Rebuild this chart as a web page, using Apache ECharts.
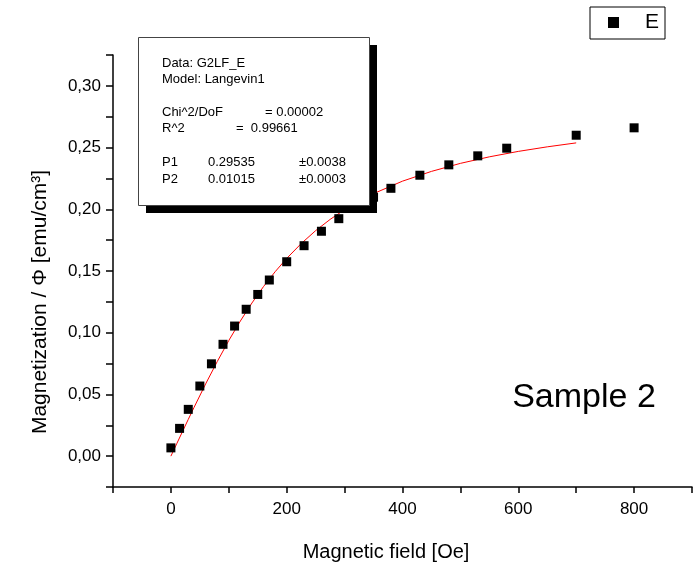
<!DOCTYPE html>
<html>
<head>
<meta charset="utf-8">
<script src="https://cdn.jsdelivr.net/npm/echarts@6/dist/echarts.min.js"></script>
<style>
html,body{margin:0;padding:0;background:#fff;}
#chart{width:695px;height:564px;}
</style>
</head>
<body>
<div id="chart"></div>
<script>
// Measured data (series E)
var fieldH = [0, 15, 30, 50, 70, 90, 110, 130, 150, 170, 200, 230, 260, 290, 350, 380, 430, 480, 530, 580, 700, 800];
var magE = [0.0067, 0.0225, 0.0379, 0.0568, 0.0748, 0.0906, 0.1054, 0.119, 0.131, 0.1427, 0.1575, 0.1705, 0.1822, 0.1924, 0.2098, 0.217, 0.2276, 0.236, 0.2433, 0.2495, 0.26, 0.266];
// Fit curve
var fitH = [0, 10, 20, 30, 40, 60, 80, 100, 120, 140, 160, 180, 200, 225, 250, 275, 300, 325, 350, 400, 450, 500, 550, 600, 650, 700];
var fitM = [0, 0.0100, 0.0199, 0.0298, 0.0395, 0.0585, 0.0766, 0.0937, 0.1095, 0.1241, 0.1374, 0.1494, 0.1602, 0.1722, 0.1827, 0.1918, 0.1997, 0.2066, 0.2127, 0.2228, 0.2307, 0.2372, 0.2425, 0.2469, 0.2506, 0.2538];
// Stats box text
var statsLines = [
  ['Data: G2LF_E', '', ''],
  ['Model: Langevin1', '', ''],
  ['', '', ''],
  ['Chi^2/DoF', '= 0.00002', ''],
  ['R^2', '=  0.99661', ''],
  ['', '', ''],
  ['P1', '0.29535', '\u00b10.0038'],
  ['P2', '0.01015', '\u00b10.0003']
];
var xTitle = 'Magnetic field [Oe]';
var yTitle = 'Magnetization / \u03a6 [emu/cm\u00b3]';
var sampleLabel = 'Sample 2';
var seriesName = 'E';

var FONT = '"Liberation Sans", Arial, sans-serif';

function pairs(xs, ys) { return xs.map(function (x, i) { return [x, ys[i]]; }); }

var chart = echarts.init(document.getElementById('chart'), null, {renderer: 'canvas'});

var statsGraphics = [];
var rowY = [63, 79, 95, 112, 128, 145, 162, 179];
statsLines.forEach(function (row, i) {
  if (row[0]) statsGraphics.push({type: 'text', z: 102, x: 162, y: rowY[i], style: {text: row[0], font: '13px ' + FONT, fill: '#000', textVerticalAlign: 'middle'}});
  if (row[1]) {
    var cx = (i === 3) ? 265 : (i === 4 ? 236 : 208);
    statsGraphics.push({type: 'text', z: 102, x: cx, y: rowY[i], style: {text: row[1], font: '13px ' + FONT, fill: '#000', textVerticalAlign: 'middle'}});
  }
  if (row[2]) statsGraphics.push({type: 'text', z: 102, x: 299, y: rowY[i], style: {text: row[2], font: '13px ' + FONT, fill: '#000', textVerticalAlign: 'middle'}});
});

var option = {
  animation: false,
  backgroundColor: '#fff',
  grid: {left: 113, right: 1, top: 55, bottom: 77, containLabel: false},
  legend: {
    left: 590, top: 7,
    data: [{name: seriesName, icon: 'rect', itemStyle: {opacity: 1}}],
    itemWidth: 11, itemHeight: 11,
    borderColor: '#000', borderWidth: 1,
    padding: [5, 6, 6, 18],
    textStyle: {fontFamily: FONT, fontSize: 21, color: '#000', padding: [0, 0, 0, 21]}
  },
  xAxis: {
    type: 'value', min: -100, max: 900, interval: 100,
    splitLine: {show: false},
    axisLine: {show: true, onZero: false, lineStyle: {color: '#000', width: 1.5}},
    axisTick: {show: true, inside: false, length: 6, lineStyle: {color: '#000', width: 1.5}},
    axisLabel: {
      margin: 14, fontFamily: FONT, fontSize: 17, color: '#000',
      formatter: function (v) { return (Math.round(v) % 200 === 0 && v >= 0) ? String(v) : ''; }
    }
  },
  yAxis: {
    type: 'value', min: -0.025, max: 0.325, interval: 0.025,
    splitLine: {show: false},
    axisLine: {show: true, onZero: false, lineStyle: {color: '#000', width: 1.5}},
    axisTick: {show: true, inside: false, length: 7, lineStyle: {color: '#000', width: 1.5}},
    axisLabel: {
      margin: 12, fontFamily: FONT, fontSize: 17, color: '#000',
      formatter: function (v) {
        var k = Math.round(v * 1000);
        if (k < 0 || k % 50 !== 0) return '';
        return (k / 1000).toFixed(2).replace('.', ',');
      }
    }
  },
  series: [
    {
      name: 'fit', type: 'line', data: pairs(fitH, fitM),
      showSymbol: false, smooth: false,
      lineStyle: {color: '#ff0000', width: 1}, z: 2, silent: true
    },
    {
      name: seriesName, type: 'scatter', data: pairs(fieldH, magE),
      symbol: 'rect', symbolSize: 9,
      itemStyle: {color: '#000', opacity: 1}, z: 3
    }
  ],
  graphic: [
    {type: 'rect', z: 100, shape: {x: 146, y: 45, width: 231, height: 168}, style: {fill: '#000'}},
    {type: 'rect', z: 101, shape: {x: 138.5, y: 37.5, width: 231, height: 168}, style: {fill: '#fff', stroke: '#444', lineWidth: 1}},
    {type: 'text', z: 100, x: 584, y: 398, style: {text: sampleLabel, font: '34px ' + FONT, fill: '#000', textAlign: 'center', textVerticalAlign: 'middle'}},
    {type: 'text', z: 100, x: 386, y: 552, style: {text: xTitle, font: '20px ' + FONT, fill: '#000', textAlign: 'center', textVerticalAlign: 'middle'}},
    {type: 'text', z: 100, x: 40, y: 302, rotation: Math.PI / 2, style: {text: yTitle, font: '21px ' + FONT, fill: '#000', textAlign: 'center', textVerticalAlign: 'middle'}}
  ].concat(statsGraphics)
};
chart.setOption(option);
</script>
</body>
</html>
